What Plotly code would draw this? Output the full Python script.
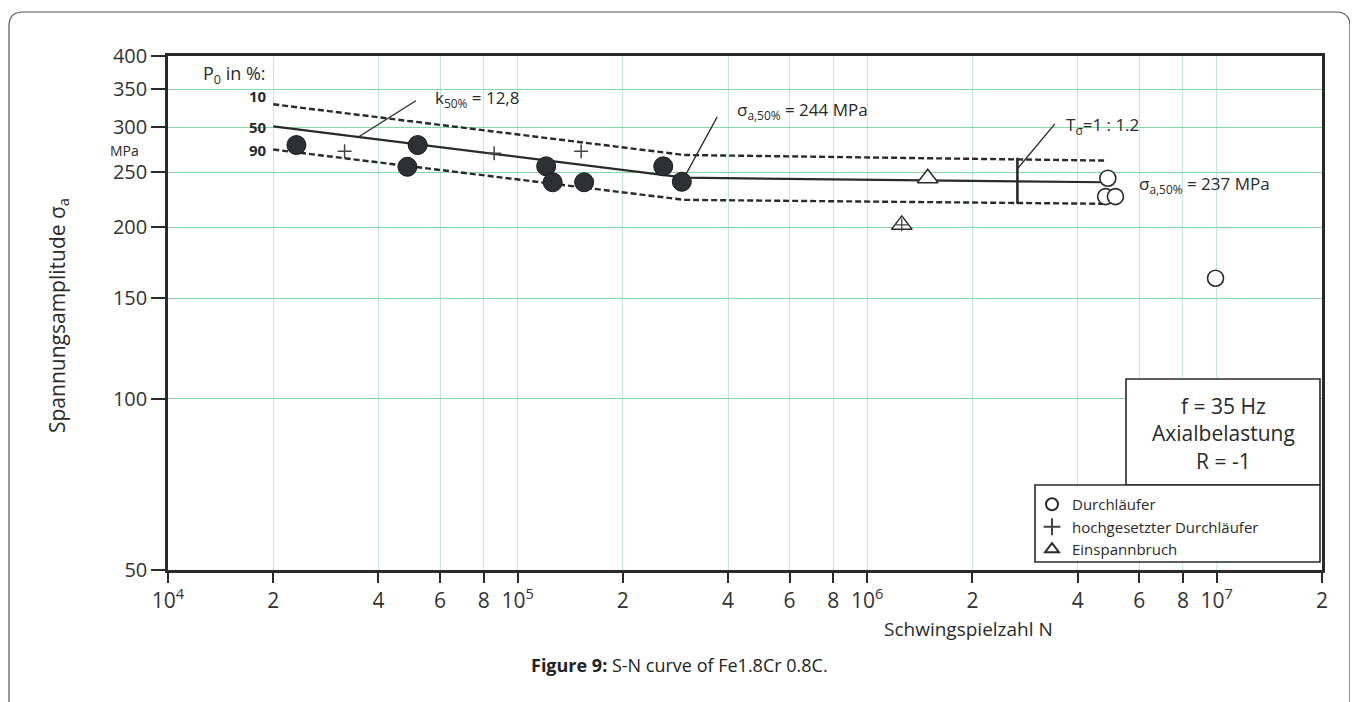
import math
import plotly.graph_objects as go

# ---------------- data ----------------
# fractures (filled circles)
broken_N = [2.33e4, 4.84e4, 5.18e4, 1.207e5, 1.26e5, 1.55e5, 2.61e5, 2.95e5]
broken_S = [279, 255.5, 279, 256, 240, 240, 256, 240.5]

# raised run-outs (+)
raised_N = [3.2e4, 8.57e4, 1.52e5]
raised_S = [272, 270, 272]

# run-outs (open circles)
runout_N = [4.88e6, 4.81e6, 5.13e6, 9.92e6]
runout_S = [244, 226.5, 226.5, 162.8]

# clamping fractures (triangles)
clamp_N = [1.49e6, 1.256e6]
clamp_S = [244, 202]
clamp_raised_N = [1.256e6]   # triangle with + inside
clamp_raised_S = [202]

# S-N curves for P0 = 10 %, 50 %, 90 %
curve_N = [2.0e4, 3.0e5, 4.8e6]
curve_S10 = [329, 268, 262]
curve_S50 = [301, 244.5, 240]
curve_S90 = [274, 223.5, 220]

# scatter band bar (T_sigma)
tbar_N = [2.69e6, 2.69e6]
tbar_S = [265, 220]

# leader lines of the labels
lead_k_N = [10 ** 4.709, 10 ** 4.54]
lead_k_S = [333.7, 287]
lead_244_N = [10 ** 5.571, 3.0e5]
lead_244_S = [312.7, 245]
lead_T_N = [10 ** 6.537, 10 ** 6.431]
lead_T_S = [304, 254]

# axis ticks
x_tickvals = [1e4, 2e4, 4e4, 6e4, 8e4, 1e5, 2e5, 4e5, 6e5, 8e5,
              1e6, 2e6, 4e6, 6e6, 8e6, 1e7, 2e7]
x_ticktext = ["10<sup>4</sup>", "2", "4", "6", "8", "10<sup>5</sup>", "2", "4", "6", "8",
              "10<sup>6</sup>", "2", "4", "6", "8", "10<sup>7</sup>", "2"]
y_tickvals = [50, 100, 150, 200, 250, 300, 350, 400]
y_ticktext = ["50", "100", "150", "200", "250", "300", "350", "400"]

FONT = "Open Sans"
INK = "#2a2a2a"

# ---------------- layout geometry (page pixels) ----------------
OFF = 8                      # page body margin
W, H = 1358 - OFF, 702 - OFF
L, R, T, B = 168, 1322, 56, 570   # plot area in page pixels


def px(x):
    return (x - L) / (R - L)


def py(y):
    return (B - y) / (B - T)


fig = go.Figure()

# curves
fig.add_trace(go.Scatter(x=curve_N, y=curve_S10, mode="lines",
                         line=dict(color=INK, width=2.4, dash="6px,3px"),
                         showlegend=False, hoverinfo="skip"))
fig.add_trace(go.Scatter(x=curve_N, y=curve_S50, mode="lines",
                         line=dict(color=INK, width=2.2),
                         showlegend=False, hoverinfo="skip"))
fig.add_trace(go.Scatter(x=curve_N, y=curve_S90, mode="lines",
                         line=dict(color=INK, width=2.4, dash="6px,3px"),
                         showlegend=False, hoverinfo="skip"))
fig.add_trace(go.Scatter(x=tbar_N, y=tbar_S, mode="lines",
                         line=dict(color=INK, width=2.6),
                         showlegend=False, hoverinfo="skip"))
for ln, ls in [(lead_k_N, lead_k_S), (lead_244_N, lead_244_S), (lead_T_N, lead_T_S)]:
    fig.add_trace(go.Scatter(x=ln, y=ls, mode="lines",
                             line=dict(color=INK, width=1.3),
                             showlegend=False, hoverinfo="skip"))

# markers
fig.add_trace(go.Scatter(x=broken_N, y=broken_S, mode="markers",
                         marker=dict(symbol="circle", size=19, color="#2e3133",
                                     line=dict(color="#1a1a1a", width=1)),
                         showlegend=False, hoverinfo="skip"))
fig.add_trace(go.Scatter(x=runout_N, y=runout_S, mode="markers", name="Durchläufer",
                         marker=dict(symbol="circle", size=16, color="white",
                                     line=dict(color=INK, width=1.6))))
fig.add_trace(go.Scatter(x=raised_N, y=raised_S, mode="markers",
                         name="hochgesetzter Durchläufer",
                         marker=dict(symbol="cross-thin", size=10, color="#444",
                                     line=dict(color="#444", width=1.5))))
fig.add_trace(go.Scatter(x=clamp_N, y=clamp_S, mode="markers", name="Einspannbruch",
                         marker=dict(symbol="triangle-up", size=18, color="white",
                                     line=dict(color=INK, width=1.5))))
fig.add_trace(go.Scatter(x=clamp_raised_N, y=clamp_raised_S, mode="markers",
                         marker=dict(symbol="cross-thin", size=9, color="#444",
                                     line=dict(color="#444", width=1.3)),
                         showlegend=False, hoverinfo="skip"))

# ---------------- annotations ----------------
ann = []


def text(x, y, s, size=15, xanchor="left", yanchor="middle", textangle=0, color=INK):
    ann.append(dict(x=px(x), y=py(y), xref="paper", yref="paper", text=s,
                    showarrow=False, xanchor=xanchor, yanchor=yanchor,
                    textangle=textangle, font=dict(family=FONT, size=size, color=color)))


text(201, 74, "P<sub>0</sub> in %:", size=18)
text(269, 96, "<b>10</b>", size=15, xanchor="right")
text(269, 127, "<b>50</b>", size=15, xanchor="right")
text(269, 150, "<b>90</b>", size=15, xanchor="right")
text(433, 98, "k<sub>50%</sub> = 12,8", size=17)
text(735, 111, "σ<sub>a,50%</sub> = 244 MPa", size=17)
text(1064, 126, "T<sub>σ</sub>=1 : 1.2", size=17)
text(1137, 184, "σ<sub>a,50%</sub> = 237 MPa", size=17)
text(141, 150, "MPa", size=14, xanchor="right")
text(58, 316, "Spannungsamplitude σ<sub>a</sub>", size=21, xanchor="center",
     textangle=-90)
text(968, 629, "Schwingspielzahl N", size=19, xanchor="center")
text(1223, 433, "f = 35 Hz<br>Axialbelastung<br>R = -1", size=21, xanchor="center")
text(679, 665, "<b>Figure 9:</b> S-N curve of Fe1.8Cr 0.8C.", size=18,
     xanchor="center", color="#222")

# ---------------- shapes ----------------
shapes = []
# info box
shapes.append(dict(type="rect", xref="paper", yref="paper",
                   x0=px(1126), x1=px(1320), y0=py(485), y1=py(379),
                   line=dict(color=INK, width=1.6), fillcolor="white", layer="above"))
# legend box
shapes.append(dict(type="rect", xref="paper", yref="paper",
                   x0=px(1035), x1=px(1320), y0=py(562), y1=py(485),
                   line=dict(color=INK, width=1.6), fillcolor="white", layer="above"))
# outer rounded page border
bx0, bx1, by0, by1 = px(9), px(1350), py(12), py(720)
rx, ry = 14 / (R - L), 14 / (B - T)
path = (f"M {bx0},{by1} L {bx0},{by0 - ry} Q {bx0},{by0} {bx0 + rx},{by0} "
        f"L {bx1 - rx},{by0} Q {bx1},{by0} {bx1},{by0 - ry} L {bx1},{by1}")
shapes.append(dict(type="path", xref="paper", yref="paper", path=path,
                   line=dict(color="#555", width=1.2), layer="below"))

fig.update_layout(
    width=W, height=H,
    margin=dict(l=L - OFF, r=(1358 - R), t=T - OFF, b=(702 - B)),
    paper_bgcolor="white", plot_bgcolor="white",
    font=dict(family=FONT, color=INK),
    annotations=ann, shapes=shapes,
    showlegend=True,
    legend=dict(x=px(1032), y=py(488), xanchor="left", yanchor="top",
                bgcolor="rgba(0,0,0,0)", borderwidth=0,
                font=dict(family=FONT, size=15, color=INK),
                tracegroupgap=0, itemsizing="constant"),
    xaxis=dict(type="log", range=[4, math.log10(2e7)],
               tickmode="array", tickvals=x_tickvals, ticktext=x_ticktext,
               ticks="outside", ticklen=10, tickwidth=2, tickcolor=INK,
               tickfont=dict(family=FONT, size=21, color="#333"),
               showline=True, linewidth=3, linecolor=INK, mirror=True,
               showgrid=True, gridcolor="#bfe9e3", gridwidth=1, zeroline=False),
    yaxis=dict(type="log", range=[math.log10(50), math.log10(400)],
               tickmode="array", tickvals=y_tickvals, ticktext=y_ticktext,
               ticks="outside", ticklen=14, tickwidth=2, tickcolor=INK,
               tickfont=dict(family=FONT, size=20, color="#333"),
               showline=True, linewidth=2.5, linecolor=INK, mirror=True,
               showgrid=True, gridcolor="#86d6a6", gridwidth=1.2, zeroline=False),
)

fig.write_html("out.html")
